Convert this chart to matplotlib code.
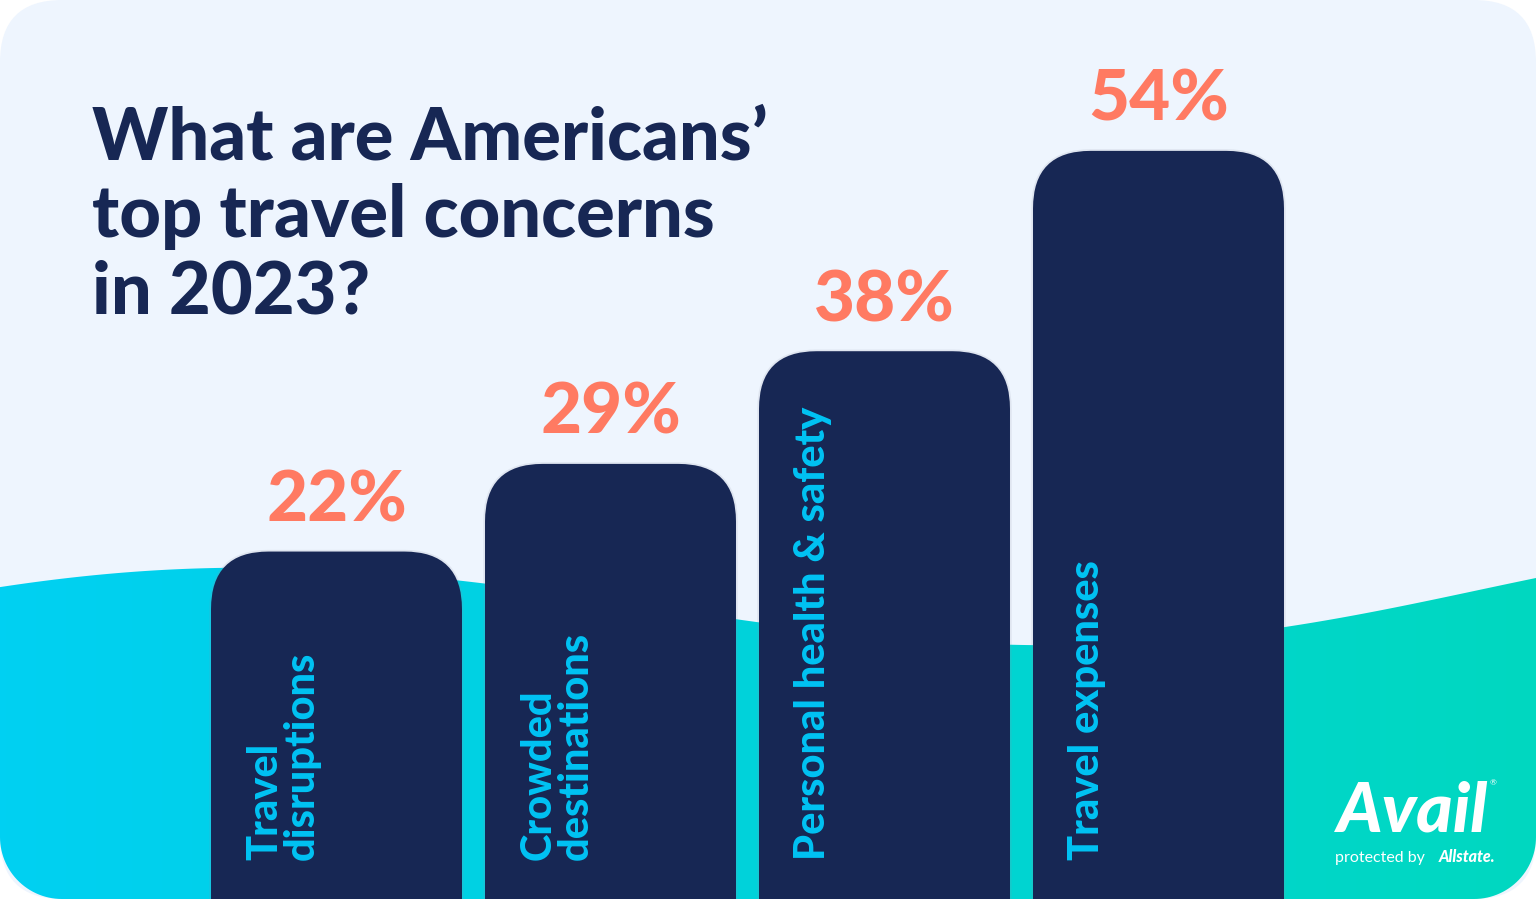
import matplotlib.pyplot as plt
import numpy as np
from matplotlib.patches import FancyBboxPatch, Polygon
from matplotlib.colors import LinearSegmentedColormap

plt.rcParams['font.family'] = ['Lato', 'DejaVu Sans']

categories = ['Travel\ndisruptions', 'Crowded\ndestinations', 'Personal health & safety', 'Travel expenses']
values = [22, 29, 38, 54]
value_labels = ['22%', '29%', '38%', '54%']
title_lines = ['What are Americans\u2019', 'top travel concerns', 'in 2023?']

navy = '#172754'
coral = '#FF7A62'
cyan_label = '#00C3F4'
bg_blue = '#EEF5FE'

W, H = 1536, 899
fig = plt.figure(figsize=(W / 100, H / 100), dpi=100)
fig.patch.set_facecolor('white')

# background card + wave, in pixel coordinates
bg = fig.add_axes([0, 0, 1, 1])
bg.set_xlim(0, W)
bg.set_ylim(H, 0)
bg.axis('off')
card = FancyBboxPatch((0, 0), W, H, boxstyle='round,pad=0,rounding_size=62',
                      facecolor=bg_blue, edgecolor='none')
bg.add_patch(card)

wx = np.array([0, 100, 200, 470, 750, 1020, 1285, 1536])
wy = np.array([587, 575, 568, 582, 621, 645, 627, 578])
coef = np.polyfit(wx, wy, 5)
xs = np.linspace(0, W, 300)
top = np.polyval(coef, xs)
r = 62
a = np.linspace(0, np.pi / 2, 30)
br = np.column_stack([W - r + r * np.cos(a), H - r + r * np.sin(a)])
bl = np.column_stack([r - r * np.sin(a), H - r + r * np.cos(a)])
pts = np.vstack([np.column_stack([xs, top]), br, bl])
wave = Polygon(pts, closed=True, facecolor='none', edgecolor='none')
bg.add_patch(wave)
grad = np.linspace(0, 1, 256).reshape(1, -1)
cmap = LinearSegmentedColormap.from_list('wave', ['#00D0F2', '#00D3DA', '#00D8C0'])
img = bg.imshow(grad, extent=[0, W, H, 540], cmap=cmap, aspect='auto', zorder=1)
img.set_clip_path(wave)
bg.set_xlim(0, W)
bg.set_ylim(H, 0)

# bars axes: y in percent
ax = fig.add_axes([199.5 / W, 0, 1096 / W, 1])
ax.set_xlim(-0.5, 3.5)
ax.set_ylim(-5.75, 66.05)
ax.axis('off')
ax.patch.set_visible(False)

bar_w = 0.916
px_x = 1096 / 4
px_y = H / (66.05 + 5.75)
for i, v in enumerate(values):
    shadow = FancyBboxPatch((i - bar_w / 2, -20), bar_w, v + 20,
                            boxstyle='round,pad=0,rounding_size=0.21',
                            mutation_aspect=px_x / px_y,
                            facecolor='none', edgecolor='#8A90A6', lw=2.5, alpha=0.15, zorder=2)
    ax.add_patch(shadow)
    bar = FancyBboxPatch((i - bar_w / 2, -20), bar_w, v + 20,
                         boxstyle='round,pad=0,rounding_size=0.21',
                         mutation_aspect=px_x / px_y,
                         facecolor=navy, edgecolor='none', zorder=3)
    ax.add_patch(bar)
    ax.annotate(value_labels[i], (i, v), xytext=(0, 30), textcoords='offset pixels',
                ha='center', va='baseline', fontsize=51, fontweight='black', color=coral)
    ax.annotate(categories[i], (i - bar_w / 2, 0), xytext=(35, -33), textcoords='offset pixels',
                ha='left', va='bottom', rotation=90, fontsize=30, fontweight='black',
                color=cyan_label, linespacing=0.95, zorder=4)

# title
for k, line in enumerate(title_lines):
    fig.text(92 / W, 1 - (160 + 77 * k) / H, line, ha='left', va='baseline',
             fontsize=52, fontweight='black', color=navy)

# logo
fig.text(1413 / W, 1 - 832 / H, 'Avail', ha='center', va='baseline', fontsize=50,
         fontweight='black', fontstyle='italic', color='white')
fig.text(1490 / W, 1 - 783 / H, '\u00ae', ha='left', va='center', fontsize=6, color='white')
fig.text(1335 / W, 1 - 862 / H, 'protected by', ha='left', va='baseline', fontsize=11.5,
         color='white')
fig.text(1495 / W, 1 - 862 / H, 'Allstate.', ha='right', va='baseline', fontsize=11.5,
         fontweight='black', fontstyle='italic', color='white')

fig.savefig('out.png', dpi=100, facecolor='white')
